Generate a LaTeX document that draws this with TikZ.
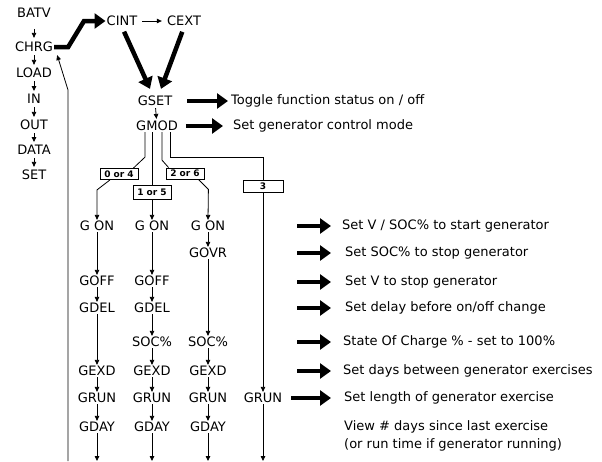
\documentclass[tikz,border=0pt]{standalone}
\usepackage{fontspec}
\setmainfont{DejaVu Sans}
\usetikzlibrary{arrows.meta}
\tikzset{
  lbl/.style={font=\fontsize{13}{15}\selectfont, inner sep=1pt},
  desc/.style={lbl, anchor=west},
  modebox/.style={draw, line width=0.8pt, font=\fontsize{9}{10}\selectfont\bfseries, inner sep=1pt, minimum width=38pt, minimum height=11pt},
  flow/.style={line width=0.8pt, -{Triangle[length=5pt,width=4.5pt]}},
  bigarrow/.style={line width=4.5pt, -{Triangle[length=11pt,width=15pt]}},
}
\begin{document}
\begin{tikzpicture}[x=1pt,y=-1pt]
	\useasboundingbox (0,0) rectangle (602,461);

	%menu list
	\node[lbl] (batv) at (34,13) {BATV};
	\node[lbl] (chrg) at (34,47) {CHRG};
	\node[lbl] (load) at (34,73) {LOAD};
	\node[lbl] (in) at (34,99) {IN};
	\node[lbl] (out) at (34,125) {OUT};
	\node[lbl] (data) at (34,150) {DATA};
	\node[lbl] (set) at (34,175) {SET};
	\draw[flow, shorten <=10pt, shorten >=3pt] (batv) -- (chrg);
	\draw[flow, shorten <=2pt, shorten >=2pt] (chrg) -- (load);
	\draw[flow, shorten <=2pt, shorten >=2pt] (load) -- (in);
	\draw[flow, shorten <=2pt, shorten >=2pt] (in) -- (out);
	\draw[flow, shorten <=2pt, shorten >=2pt] (out) -- (data);
	\draw[flow, shorten <=2pt, shorten >=2pt] (data) -- (set);

	%charge source
	\node[lbl] (cint) at (122,21) {CINT};
	\node[lbl] (cext) at (184,21) {CEXT};
	\draw[flow, shorten <=4pt, shorten >=4pt] (cint) -- (cext);
	\draw[bigarrow] (chrg.east) -- ++(14,0) -- (84,21) -- (cint.west);

	%generator set and mode
	\node[lbl] (gset) at (155,101) {GSET};
	\node[lbl] (gmod) at (157,126) {GMOD};
	\draw[bigarrow, shorten <=5pt] (cint.south) -- ([shift={(-5pt,6pt)}]gset.north);
	\draw[bigarrow, shorten <=5pt] (cext.south) -- ([shift={(6pt,6pt)}]gset.north);
	\draw[flow, shorten <=1pt, shorten >=1pt] (gset) -- (gmod);

	%mode boxes
	\node[modebox] (b04) at (119,174) {0 or 4};
	\node[modebox, minimum height=14pt] (b15) at (152,192) {1 or 5};
	\node[modebox] (b26) at (185,173.5) {2 or 6};
	\node[modebox, minimum width=40pt, minimum height=12pt] (b3) at (263,186) {3};

	%branches out of GMOD
	\coordinate (m0) at ([xshift=-12pt]gmod.south);
	\coordinate (m1) at ([xshift=-5pt]gmod.south);
	\coordinate (m2) at ([xshift=5pt]gmod.south);
	\coordinate (m3) at ([xshift=13pt]gmod.south);
	\draw[line width=0.8pt] (m0) -- ++(0,25) -- ([xshift=-5pt]b04.north east);
	\draw[line width=0.8pt] (m1) -- (b15.north);
	\draw[line width=0.8pt] (m2) -- ++(0,28) -- ([xshift=3pt]b26.north west);
	\draw[line width=0.8pt] (m3) -- ++(0,25) -| (b3.north);

	%column 1
	\node[lbl] (gon1) at (97,226) {G ON};
	\node[lbl] (goff1) at (97,281) {GOFF};
	\node[lbl] (gdel1) at (97,308) {GDEL};
	\node[lbl] (gexd1) at (97,371) {GEXD};
	\node[lbl] (grun1) at (97,398) {GRUN};
	\node[lbl] (gday1) at (97,427) {GDAY};

	%column 2
	\node[lbl] (gon2) at (152,226) {G ON};
	\node[lbl] (goff2) at (152,281) {GOFF};
	\node[lbl] (gdel2) at (152,308) {GDEL};
	\node[lbl] (soc2) at (152,342) {SOC\%};
	\node[lbl] (gexd2) at (152,371) {GEXD};
	\node[lbl] (grun2) at (152,398) {GRUN};
	\node[lbl] (gday2) at (152,427) {GDAY};

	%column 3
	\node[lbl] (gon3) at (208,226) {G ON};
	\node[lbl] (govr3) at (208,253) {GOVR};
	\node[lbl] (soc3) at (208,342) {SOC\%};
	\node[lbl] (gexd3) at (208,371) {GEXD};
	\node[lbl] (grun3) at (208,398) {GRUN};
	\node[lbl] (gday3) at (208,427) {GDAY};

	%column 4
	\node[lbl] (grun4) at (263,398) {GRUN};

	%into the columns
	\draw[flow] ([xshift=-9pt]b04.south) -- ++(-13,10) -- (gon1.north);
	\draw[flow] (b15.south) -- (gon2.north);
	\draw[flow] ([xshift=-6pt]b26.south east) -- ++(10,10) -- (gon3.north);
	\draw[flow] (b3.south) -- (grun4.north);

	%column steps
	\draw[flow] (gon1) -- (goff1);
	\draw[flow] (goff1) -- (gdel1);
	\draw[flow] (gdel1) -- (gexd1);
	\draw[flow] (gexd1) -- (grun1);
	\draw[flow] (grun1) -- (gday1);
	\draw[flow] (gon2) -- (goff2);
	\draw[flow] (goff2) -- (gdel2);
	\draw[flow] (gdel2) -- (soc2);
	\draw[flow] (soc2) -- (gexd2);
	\draw[flow] (gexd2) -- (grun2);
	\draw[flow] (grun2) -- (gday2);
	\draw[flow] (gon3) -- (govr3);
	\draw[flow] (govr3) -- (soc3);
	\draw[flow] (soc3) -- (gexd3);
	\draw[flow] (gexd3) -- (grun3);
	\draw[flow] (grun3) -- (gday3);

	%down to the bottom edge
	\coordinate (e1) at (97,461);
	\coordinate (e2) at (152,461);
	\coordinate (e3) at (208,461);
	\coordinate (e4) at (263,461);
	\draw[flow] (gday1) -- (e1);
	\draw[flow] (gday2) -- (e2);
	\draw[flow] (gday3) -- (e3);
	\draw[flow] (grun4) -- (e4);

	%return line to CHRG
	\coordinate (ret) at (68,461);
	\draw[flow] (ret) -- (68,90) -- ([shift={(3pt,-2pt)}]chrg.south east);

	%descriptions
	\node[desc] (d0) at (230,101) {Toggle function status on / off};
	\node[desc] (d1) at (232,126) {Set generator control mode};
	\node[desc] (r1) at (341,226) {Set V / SOC\% to start generator};
	\node[desc] (r2) at (344,253) {Set SOC\% to stop generator};
	\node[desc] (r3) at (344,282) {Set V to stop generator};
	\node[desc] (r4) at (344,308) {Set delay before on/off change};
	\node[desc] (r5) at (342,342) {State Of Charge \% - set to 100\%};
	\node[desc] (r6) at (342,371) {Set days between generator exercises};
	\node[desc] (r7) at (343,398) {Set length of generator exercise};
	\node[desc, align=left, font=\fontsize{13}{18}\selectfont] (r8) at (343,436) {View \# days since last exercise\\(or run time if generator running)};

	%description arrows
	\draw[bigarrow, shorten <=14pt, shorten >=2pt] (gset.east) -- (d0.west);
	\draw[bigarrow, shorten <=7pt, shorten >=9pt] (gmod.east) -- (d1.west);
	\coordinate (a1) at (297,226);
	\coordinate (a2) at (297,253);
	\coordinate (a3) at (297,282);
	\coordinate (a4) at (297,308);
	\coordinate (a5) at (297,342);
	\coordinate (a6) at (297,371);
	\draw[bigarrow, shorten >=10pt] (a1) -- (r1.west);
	\draw[bigarrow, shorten >=13pt] (a2) -- (r2.west);
	\draw[bigarrow, shorten >=13pt] (a3) -- (r3.west);
	\draw[bigarrow, shorten >=13pt] (a4) -- (r4.west);
	\draw[bigarrow, shorten >=11pt] (a5) -- (r5.west);
	\draw[bigarrow, shorten >=11pt] (a6) -- (r6.west);
	\draw[bigarrow, shorten <=8pt, shorten >=12pt] (grun4.east) -- (r7.west);
\end{tikzpicture}
\end{document}
